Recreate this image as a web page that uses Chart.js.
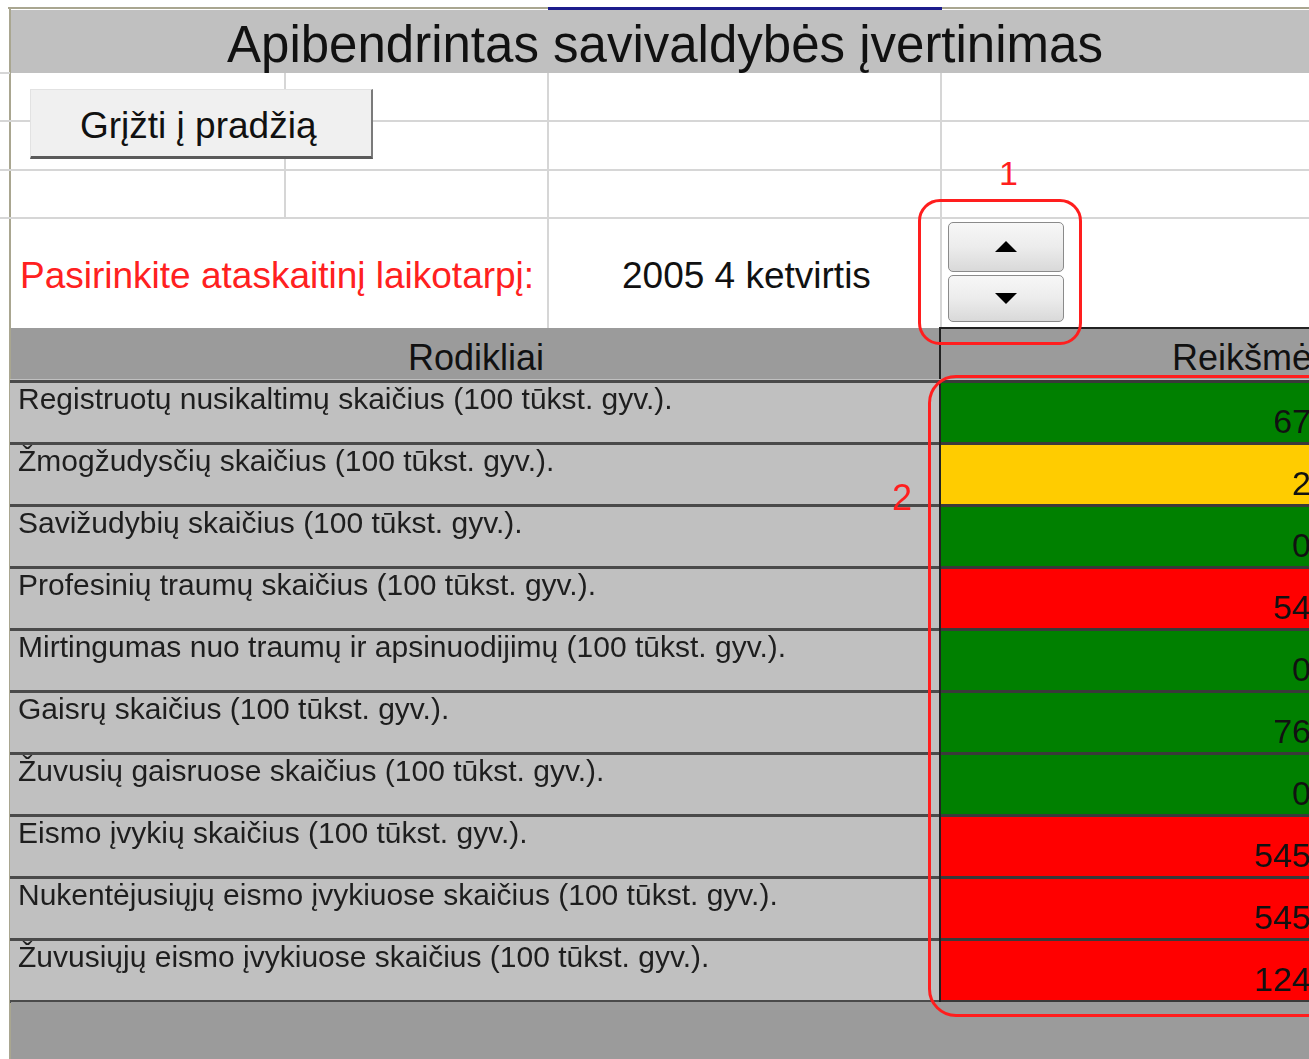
<!DOCTYPE html>
<html lang="lt">
<head>
<meta charset="utf-8">
<title>Apibendrintas savivaldybės įvertinimas</title>
<script src="https://cdn.jsdelivr.net/npm/chart.js@4.4.1/dist/chart.umd.min.js"></script>
<style>
html, body { margin: 0; padding: 0; width: 1309px; height: 1059px; overflow: hidden; background: #fff; }
body { position: relative; font-family: "Liberation Sans", Arial, sans-serif; }
.abs { position: absolute; }
.txt { position: absolute; line-height: 1; white-space: nowrap; }
.hl { position: absolute; height: 2px; background: #d6d6d6; }
.vl { position: absolute; width: 2px; background: #d6d6d6; }
.spin { position: absolute; left: 948px; width: 116px; box-sizing: border-box; border: 1px solid #8a8a8a; border-radius: 5px;
        background: linear-gradient(#f7f7f7, #ececec 50%, #d9d9d9); }
.red-box { position: absolute; box-sizing: border-box; border: 3px solid #ff1e1e; z-index: 5; }
#tableBox { position: absolute; left: 10px; top: 379px; width: 1306px; height: 624px; background: #c0c0c0; }
</style>
</head>
<body>

<!-- lapo rėmai -->
<div class="abs" style="left:8px;top:7px;width:1301px;height:2px;background:#a9a690"></div>
<div class="abs" style="left:548px;top:7px;width:394px;height:3px;background:#1c1c8c"></div>
<div class="abs" style="left:9px;top:8px;width:2px;height:1051px;background:#a9a690"></div>

<!-- antraštė -->
<div class="abs" style="left:11px;top:10px;width:1298px;height:63px;background:#c0c0c0"></div>
<div class="txt" style="left:227px;top:19px;font-size:51px;color:#111">Apibendrintas savivaldybės įvertinimas</div>

<!-- langelių linijos -->
<div class="hl" style="left:0;top:72px;width:10px"></div>
<div class="hl" style="left:0;top:120px;width:1309px"></div>
<div class="hl" style="left:0;top:169px;width:1309px"></div>
<div class="hl" style="left:0;top:217px;width:1309px"></div>
<div class="vl" style="left:284px;top:73px;height:145px"></div>
<div class="vl" style="left:547px;top:73px;height:255px"></div>
<div class="vl" style="left:940px;top:73px;height:255px"></div>

<!-- mygtukas -->
<div class="abs" style="left:30px;top:89px;width:340px;height:66px;background:#f0f0f0;border-top:1px solid #e2e2e2;border-left:1px solid #e2e2e2;border-right:2px solid #7a7a7a;border-bottom:3px solid #5a5a5a"></div>
<div class="txt" style="left:80px;top:107px;font-size:37px;color:#111">Grįžti į pradžią</div>

<!-- laikotarpis -->
<div class="txt" style="left:20px;top:257px;font-size:37px;color:#ff2020">Pasirinkite ataskaitinį laikotarpį:</div>
<div class="txt" style="left:622px;top:257px;font-size:37px;color:#111">2005 4 ketvirtis</div>

<div class="spin" style="top:222px;height:50px"></div>
<div class="abs" style="left:995px;top:241px;width:0;height:0;border-left:11px solid transparent;border-right:11px solid transparent;border-bottom:11px solid #000"></div>
<div class="spin" style="top:275px;height:47px"></div>
<div class="abs" style="left:995px;top:293px;width:0;height:0;border-left:11px solid transparent;border-right:11px solid transparent;border-top:11px solid #000"></div>

<div class="txt" style="left:999px;top:156px;font-size:34px;color:#ff1e1e">1</div>
<div class="red-box" style="left:918px;top:199px;width:164px;height:146px;border-radius:22px"></div>

<!-- lentelės galva -->
<div class="abs" style="left:11px;top:328px;width:1298px;height:53px;background:#9b9b9b"></div>
<div class="abs" style="left:939px;top:327px;width:370px;height:2px;background:#222"></div>
<div class="abs" style="left:939px;top:327px;width:2px;height:54px;background:#222"></div>
<div class="txt" style="left:408px;top:340px;font-size:36px;color:#111">Rodikliai</div>
<div class="txt" style="left:1172px;top:340px;font-size:36px;color:#111">Reikšmė</div>

<div id="tableBox"><canvas id="myChart"></canvas></div>

<div class="abs" style="left:11px;top:1002px;width:1298px;height:57px;background:#9b9b9b"></div>

<div class="txt" style="left:892px;top:480px;font-size:36px;color:#ff1e1e;z-index:6">2</div>
<div class="red-box" style="left:928px;top:375px;width:460px;height:642px;border-radius:28px"></div>

<script>
var rodikliai = [
    "Registruotų nusikaltimų skaičius (100 tūkst. gyv.).",
    "Žmogžudysčių skaičius (100 tūkst. gyv.).",
    "Savižudybių skaičius (100 tūkst. gyv.).",
    "Profesinių traumų skaičius (100 tūkst. gyv.).",
    "Mirtingumas nuo traumų ir apsinuodijimų (100 tūkst. gyv.).",
    "Gaisrų skaičius (100 tūkst. gyv.).",
    "Žuvusių gaisruose skaičius (100 tūkst. gyv.).",
    "Eismo įvykių skaičius (100 tūkst. gyv.).",
    "Nukentėjusiųjų eismo įvykiuose skaičius (100 tūkst. gyv.).",
    "Žuvusiųjų eismo įvykiuose skaičius (100 tūkst. gyv.)."
];
var reiksmes = [67, 2, 0, 54, 0, 76, 0, 545, 545, 124];
var busenos = ["gera", "vidutine", "gera", "bloga", "gera", "gera", "gera", "bloga", "bloga", "bloga"];

var spalvos = { gera: "#008000", vidutine: "#ffcc00", bloga: "#ff0000" };

Chart.defaults.font.family = "'Liberation Sans', Arial, sans-serif";

// skaičiai langelių apačioje dešinėje
const reiksmiuTekstas = {
    id: 'reiksmiuTekstas',
    afterDatasetsDraw(chart) {
        const ctx = chart.ctx;
        const meta = chart.getDatasetMeta(0);
        ctx.save();
        ctx.font = "34px 'Liberation Sans', Arial, sans-serif";
        ctx.fillStyle = "#111";
        ctx.textAlign = "right";
        ctx.textBaseline = "alphabetic";
        meta.data.forEach(function(bar, i) {
            const p = bar.getProps(['y', 'height'], true);
            ctx.fillText(String(reiksmes[i]), chart.chartArea.right - 5, p.y + p.height / 2 - 10);
        });
        ctx.restore();
    }
};

const data = {
    labels: rodikliai,
    datasets: [{
        label: 'Reikšmė',
        data: rodikliai.map(function() { return [0, 1]; }),
        backgroundColor: busenos.map(function(b) { return spalvos[b]; }),
        borderWidth: 0,
        barPercentage: 1,
        categoryPercentage: 1
    }]
};

const config = {
    type: 'bar',
    data,
    options: {
        indexAxis: 'y',
        responsive: true,
        maintainAspectRatio: false,
        animation: false,
        layout: { padding: { left: 8, top: 2, bottom: 2, right: 0 } },
        plugins: { legend: { display: false }, tooltip: { enabled: false } },
        scales: {
            x: { min: 0, max: 1, display: false },
            y: {
                offset: true,
                grid: { offset: true, color: '#3a3a3a', lineWidth: 3, tickLength: 930, tickColor: '#4a4a4a', tickWidth: 3, z: 1 },
                border: { display: true, color: '#222', width: 2, z: 1 },
                ticks: { crossAlign: 'far', labelOffset: -11, color: '#1e1e1e', font: { size: 30 }, autoSkip: false },
                afterFit: function(scale) {
                    scale.width = 922;
                    scale.paddingTop = 0;
                    scale.paddingBottom = 0;
                }
            }
        }
    },
    plugins: [reiksmiuTekstas]
};

const myChart = new Chart(document.getElementById('myChart'), config);
</script>
</body>
</html>
